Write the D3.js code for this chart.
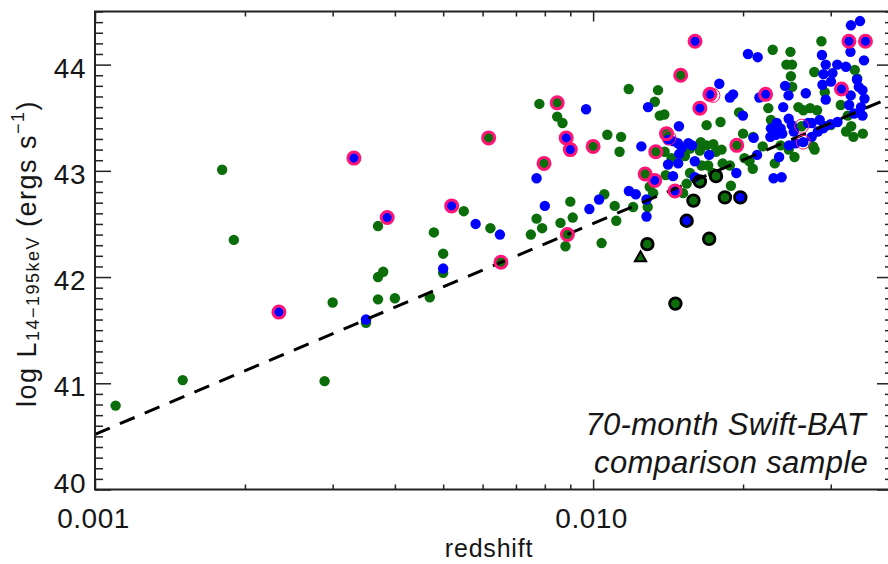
<!DOCTYPE html>
<html>
<head>
<meta charset="utf-8">
<script src="https://cdn.jsdelivr.net/npm/d3@7"></script>
<style>
  html, body { margin: 0; padding: 0; background: #fff; }
  svg { display: block; font-family: "Liberation Sans", Arial, sans-serif; }
</style>
</head>
<body>
<div id="chart"></div>
<script>
// [redshift, log L]
const greenPts = [
  [0.0011, 40.79], [0.0015, 41.03], [0.0018, 43.01], [0.0019, 42.35], [0.00289, 41.02],
  [0.003, 41.76], [0.0035, 41.57], [0.0037, 42.48], [0.0037, 42.00], [0.0037, 41.79],
  [0.00379, 42.05], [0.004, 41.80], [0.0047, 41.81], [0.00479, 42.42], [0.005, 42.22],
  [0.005, 42.04], [0.0055, 42.62], [0.00617, 43.31], [0.00622, 42.46], [0.00653, 42.14],
  [0.0075, 42.40], [0.0077, 42.55], [0.0078, 43.63], [0.0079, 42.46], [0.00797, 43.07],
  [0.00847, 43.64], [0.00847, 43.51], [0.00868, 43.45], [0.0086, 42.51], [0.0088, 42.29],
  [0.00888, 42.40], [0.009, 42.71], [0.0091, 42.56], [0.01, 43.23], [0.01053, 42.78],
  [0.01068, 43.34], [0.01105, 42.67], [0.01113, 42.53], [0.0104, 42.32], [0.01138, 43.32],
  [0.0113, 43.18], [0.01179, 43.77], [0.01203, 42.66], [0.01272, 42.97], [0.01287, 42.66],
  [0.01299, 42.85], [0.0132, 42.79], [0.0133, 43.65], [0.01336, 43.18], [0.0135, 43.76],
  [0.01361, 43.52], [0.0139, 43.53], [0.01404, 43.35], [0.01392, 43.18], [0.01399, 42.96],
  [0.01437, 43.12], [0.01499, 43.90], [0.01529, 43.14], [0.01516, 42.79], [0.01541, 42.88],
  [0.01565, 43.21], [0.01565, 42.98], [0.0159, 42.72], [0.01638, 42.90], [0.01638, 43.19],
  [0.01645, 43.27], [0.01651, 43.05], [0.0169, 43.43], [0.0169, 43.24], [0.01702, 43.05],
  [0.0171, 42.36], [0.01738, 42.98], [0.01743, 43.25], [0.01765, 42.95], [0.01765, 43.18],
  [0.01802, 43.46], [0.01811, 43.20], [0.0182, 43.07], [0.01839, 42.75], [0.01882, 43.05],
  [0.01891, 42.86], [0.01943, 43.24], [0.01964, 43.55], [0.02, 43.35], [0.02013, 43.12],
  [0.0206, 43.09], [0.02092, 43.02], [0.02095, 43.32], [0.0219, 43.23], [0.02248, 43.59],
  [0.02275, 43.48], [0.02294, 44.14], [0.02316, 43.07], [0.02379, 43.24], [0.02444, 44.00],
  [0.0247, 43.20], [0.0249, 44.12], [0.02495, 43.89], [0.02508, 44.00], [0.0251, 43.79],
  [0.02537, 43.13], [0.02583, 43.60], [0.02622, 43.42], [0.02642, 43.57], [0.02727, 43.59],
  [0.02765, 43.23], [0.0278, 43.93], [0.02784, 43.20], [0.02816, 43.57], [0.02873, 44.22],
  [0.02918, 43.74], [0.03, 43.43], [0.03142, 43.62], [0.0322, 43.37], [0.03297, 43.42],
  [0.03332, 43.32], [0.03352, 43.95], [0.0339, 43.87], [0.03479, 43.35], [0.03245, 43.52],
  [0.01285, 42.31], [0.01463, 41.75]
];

const bluePts = [
  [0.00234, 41.67], [0.00331, 43.12], [0.0035, 41.60], [0.00386, 42.56], [0.005, 42.08],
  [0.0052, 42.67], [0.00581, 42.50], [0.0065, 42.40], [0.0077, 42.93], [0.008, 42.67],
  [0.00883, 43.31], [0.009, 43.20], [0.00968, 43.58], [0.00983, 42.64], [0.01028, 42.73],
  [0.0118, 42.81], [0.01218, 42.78], [0.0125, 43.23], [0.0128, 42.73], [0.0128, 42.57],
  [0.01289, 43.60], [0.0133, 42.91], [0.01414, 43.29], [0.01414, 43.06], [0.01447, 43.28],
  [0.01447, 42.95], [0.0146, 42.81], [0.0148, 43.26], [0.01482, 43.07], [0.01487, 43.42],
  [0.01489, 43.16], [0.01507, 43.22], [0.01541, 42.53], [0.01553, 43.26], [0.0158, 43.24],
  [0.016, 43.09], [0.016, 42.94], [0.01602, 44.22], [0.01638, 43.59], [0.0171, 43.15],
  [0.01716, 43.72], [0.01792, 43.82], [0.01882, 43.69], [0.0191, 43.72], [0.01939, 42.98],
  [0.01975, 42.75], [0.01999, 43.52], [0.02046, 44.10], [0.02101, 43.31], [0.02134, 43.15],
  [0.0214, 44.07], [0.02157, 43.69], [0.0222, 43.72], [0.02275, 43.40], [0.02303, 42.93],
  [0.02337, 43.45], [0.02363, 43.13], [0.02379, 43.40], [0.0239, 42.94], [0.02408, 43.60],
  [0.02429, 43.80], [0.02468, 43.71], [0.0247, 43.49], [0.02506, 43.43], [0.02397, 43.35],
  [0.02327, 43.34], [0.02269, 43.32], [0.02529, 43.37], [0.02473, 43.24], [0.02548, 43.26],
  [0.02642, 43.27], [0.02673, 43.73], [0.02702, 43.45], [0.02747, 43.32], [0.02826, 43.37],
  [0.0285, 43.48], [0.0288, 44.09], [0.02887, 43.81], [0.02896, 43.40], [0.029, 43.91],
  [0.02931, 44.00], [0.02931, 43.67], [0.03003, 43.84], [0.03024, 43.92], [0.03091, 44.00],
  [0.03095, 43.46], [0.03152, 43.77], [0.03218, 43.98], [0.03263, 44.22], [0.03266, 43.62],
  [0.03286, 44.12], [0.0329, 43.71], [0.03293, 44.37], [0.03342, 43.54], [0.03387, 43.86],
  [0.03415, 43.79], [0.03434, 44.41], [0.0345, 43.60], [0.03474, 43.76], [0.03474, 43.52],
  [0.03498, 44.04], [0.03506, 43.68], [0.03522, 44.22], [0.02922, 43.42], [0.02998, 43.44],
  [0.02747, 43.45]
];

const pinkRings = [
  [0.00234, 41.67], [0.00331, 43.12], [0.00386, 42.56], [0.0052, 42.67], [0.00617, 43.31],
  [0.00653, 42.14], [0.00797, 43.07], [0.00847, 43.64], [0.00883, 43.31], [0.009, 43.20],
  [0.00888, 42.40], [0.01, 43.23], [0.01272, 42.97], [0.0133, 42.91], [0.01336, 43.18],
  [0.01404, 43.35], [0.0146, 42.81], [0.01499, 43.90], [0.01602, 44.22], [0.01638, 43.59],
  [0.01716, 43.72], [0.01943, 43.24], [0.0222, 43.72], [0.03152, 43.77], [0.03263, 44.22],
  [0.03522, 44.22]
];

const thinRings = [[0.0174, 43.71], [0.0142, 43.31], [0.02622, 43.42], [0.02642, 43.27]];

const blackRings = [
  [0.01285, 42.31], [0.01463, 41.75], [0.0159, 42.72], [0.01638, 42.90], [0.0171, 42.36],
  [0.01765, 42.95], [0.01839, 42.75], [0.01541, 42.53], [0.01975, 42.75]
];

const trianglePts = [[0.01245, 42.19]];

// dashed flux-limit line
const limitLine = [[0.001, 40.52], [0.04, 43.70]];

const xMajorTicks = [0.001, 0.01];
const xMinorTicks = [0.002, 0.003, 0.004, 0.005, 0.006, 0.007, 0.008, 0.009, 0.02, 0.03, 0.04];
const yMajorTicks = [40, 41, 42, 43, 44];

const GREEN = '#0b6e0b';
const BLUE = '#0000ff';
const PINK = '#ff1477';
const AXIS = '#222';
const TEXT = '#161616';

const W = 888, H = 564;
const plotLeft = 95, plotRight = 893, plotTop = 11.5, plotBottom = 489.5;

const x = d3.scaleLog().domain([0.001, 0.04]).range([plotLeft, plotRight]);
const y = d3.scaleLinear().domain([40, 44.5]).range([plotBottom, plotTop]);

const svg = d3.select('#chart').append('svg')
  .attr('width', W)
  .attr('height', H);

svg.append('rect').attr('width', W).attr('height', H).attr('fill', '#fff');

// points
svg.append('g').selectAll('circle')
  .data(greenPts).join('circle')
  .attr('cx', d => x(d[0]))
  .attr('cy', d => y(d[1]))
  .attr('r', 5.2)
  .attr('fill', GREEN);

svg.append('g').selectAll('circle')
  .data(bluePts).join('circle')
  .attr('cx', d => x(d[0]))
  .attr('cy', d => y(d[1]))
  .attr('r', 5.2)
  .attr('fill', BLUE);

svg.append('path')
  .datum(limitLine)
  .attr('d', d3.line().x(d => x(d[0])).y(d => y(d[1])))
  .attr('fill', 'none')
  .attr('stroke', '#000')
  .attr('stroke-width', 3)
  .attr('stroke-dasharray', '16,11');

svg.append('g').selectAll('circle')
  .data(pinkRings).join('circle')
  .attr('cx', d => x(d[0]))
  .attr('cy', d => y(d[1]))
  .attr('r', 6)
  .attr('fill', 'none')
  .attr('stroke', PINK)
  .attr('stroke-width', 3);

svg.append('g').selectAll('circle')
  .data(thinRings).join('circle')
  .attr('cx', d => x(d[0]))
  .attr('cy', d => y(d[1]))
  .attr('r', 7)
  .attr('fill', 'none')
  .attr('stroke', PINK)
  .attr('stroke-width', 1);

svg.append('g').selectAll('circle')
  .data(blackRings).join('circle')
  .attr('cx', d => x(d[0]))
  .attr('cy', d => y(d[1]))
  .attr('r', 5.8)
  .attr('fill', 'none')
  .attr('stroke', '#000')
  .attr('stroke-width', 2.8);

svg.append('g').selectAll('path')
  .data(trianglePts).join('path')
  .attr('transform', d => `translate(${x(d[0])},${y(d[1]) + 1})`)
  .attr('d', d3.symbol().type(d3.symbolTriangle).size(55))
  .attr('fill', GREEN)
  .attr('stroke', '#000')
  .attr('stroke-width', 2);

// axes, ticks pointing inwards on all four sides
function styleAxis(g) {
  g.select('.domain').remove();
  g.selectAll('line').attr('stroke', AXIS).attr('stroke-width', 1.5);
  g.selectAll('text')
    .attr('font-family', '"Liberation Sans", Arial, sans-serif')
    .attr('font-size', 28)
    .attr('letter-spacing', 0.5)
    .attr('fill', TEXT);
}

const yMinorTicks = d3.range(400, 446).filter(v => v % 10).map(v => v / 10);

svg.append('g')
  .attr('transform', `translate(${plotLeft},0)`)
  .call(d3.axisLeft(y).tickValues(yMajorTicks).tickSizeInner(-16).tickSizeOuter(0)
    .tickPadding(9).tickFormat(d3.format('d')))
  .call(styleAxis)
  .call(g => g.selectAll('text').attr('dy', '0.45em'))
  .call(g => g.selectAll('.tick').filter(d => d === 40).select('text').attr('dy', '0.1em'));

svg.append('g')
  .attr('transform', `translate(${plotLeft},0)`)
  .call(d3.axisLeft(y).tickValues(yMinorTicks).tickSizeInner(-8).tickSizeOuter(0).tickFormat(''))
  .call(styleAxis);

svg.append('g')
  .attr('transform', `translate(${plotRight},0)`)
  .call(d3.axisRight(y).tickValues(yMajorTicks).tickSizeInner(-16).tickSizeOuter(0).tickFormat(''))
  .call(styleAxis);

svg.append('g')
  .attr('transform', `translate(${plotRight},0)`)
  .call(d3.axisRight(y).tickValues(yMinorTicks).tickSizeInner(-8).tickSizeOuter(0).tickFormat(''))
  .call(styleAxis);

svg.append('g')
  .attr('transform', `translate(0,${plotBottom})`)
  .call(d3.axisBottom(x).tickValues(xMajorTicks).tickSizeInner(-10).tickSizeOuter(0)
    .tickFormat(d3.format('.3f')))
  .call(styleAxis)
  .call(g => g.selectAll('text').attr('y', 38).attr('dy', 0).attr('dx', -2));

svg.append('g')
  .attr('transform', `translate(0,${plotBottom})`)
  .call(d3.axisBottom(x).tickValues(xMinorTicks).tickSizeInner(-5).tickSizeOuter(0).tickFormat(''))
  .call(styleAxis);

svg.append('g')
  .attr('transform', `translate(0,${plotTop})`)
  .call(d3.axisTop(x).tickValues(xMajorTicks).tickSizeInner(-10).tickSizeOuter(0).tickFormat(''))
  .call(styleAxis);

svg.append('g')
  .attr('transform', `translate(0,${plotTop})`)
  .call(d3.axisTop(x).tickValues(xMinorTicks).tickSizeInner(-5).tickSizeOuter(0).tickFormat(''))
  .call(styleAxis);

// frame
svg.append('rect')
  .attr('x', plotLeft)
  .attr('y', plotTop)
  .attr('width', plotRight - plotLeft)
  .attr('height', plotBottom - plotTop)
  .attr('fill', 'none')
  .attr('stroke', AXIS)
  .attr('stroke-width', 2);

// axis titles
svg.append('text')
  .attr('x', 489)
  .attr('y', 557)
  .attr('text-anchor', 'middle')
  .attr('font-size', 25)
  .attr('letter-spacing', 0.8)
  .attr('fill', TEXT)
  .text('redshift');

const yTitle = svg.append('text')
  .attr('transform', `translate(36,${(plotTop + plotBottom) / 2 + 3}) rotate(-90)`)
  .attr('text-anchor', 'middle')
  .attr('font-size', 27)
  .attr('letter-spacing', 1.5)
  .attr('fill', TEXT);
yTitle.append('tspan').text('log L');
yTitle.append('tspan').attr('font-size', 18).attr('dy', 3).text('14\u2212195keV');
yTitle.append('tspan').attr('dy', -3).text(' (ergs s');
yTitle.append('tspan').attr('font-size', 18).attr('dy', -12).text('\u22121');
yTitle.append('tspan').attr('dy', 12).text(')');

// annotation
const note = svg.append('text')
  .attr('text-anchor', 'end')
  .attr('font-style', 'italic')
  .attr('font-size', 31)
  .attr('letter-spacing', 0.3)
  .attr('fill', TEXT);
note.append('tspan').attr('x', 866).attr('y', 435).text('70-month Swift-BAT');
note.append('tspan').attr('x', 868).attr('y', 473).text('comparison sample');
</script>
</body>
</html>
